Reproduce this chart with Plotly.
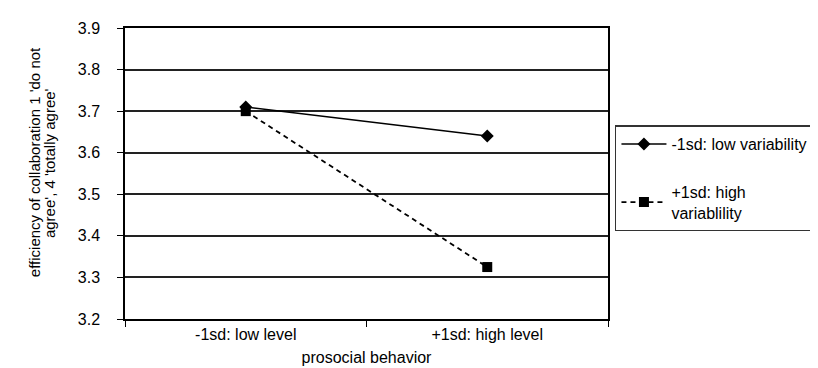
import plotly.graph_objects as go

categories = ["-1sd: low level", "+1sd: high level"]
low_var = [3.71, 3.64]
high_var = [3.70, 3.325]
series_names = ["-1sd: low variability", "+1sd: high<br>variablility"]
y_ticks = [3.2, 3.3, 3.4, 3.5, 3.6, 3.7, 3.8, 3.9]
y_title_lines = ["efficiency of collaboration 1 'do not", "agree', 4 'totally agree'"]
x_title = "prosocial behavior"

font_family = "Liberation Sans, Arial, sans-serif"

fig = go.Figure()
fig.add_trace(go.Scatter(
    x=categories, y=low_var, name=series_names[0], mode="lines+markers",
    line=dict(color="black", width=1.5),
    marker=dict(symbol="diamond", size=10, color="black"),
    legendgroup="a",
))
fig.add_trace(go.Scatter(
    x=categories, y=high_var, name=series_names[1], mode="lines+markers",
    line=dict(color="black", width=1.8, dash="5px,4px"),
    marker=dict(symbol="square", size=10, color="black"),
    legendgroup="b",
))

fig.update_layout(
    width=818, height=368,
    margin=dict(l=117, r=215, t=19, b=55),
    paper_bgcolor="white", plot_bgcolor="white",
    font=dict(family=font_family, size=16, color="black"),
    showlegend=True,
    legend=dict(
        x=1.0144, xanchor="left", y=0.665, yanchor="top",
        bordercolor="#333", borderwidth=1.5, bgcolor="white",
        font=dict(size=16), tracegroupgap=24, traceorder="grouped",
        itemwidth=45,
    ),
    xaxis=dict(
        type="category", range=[-0.5, 1.5], tickson="boundaries",
        ticks="outside", ticklen=6,
        tickcolor="black", showline=True, linecolor="black", linewidth=1.5,
        mirror=True, showgrid=False,
        tickfont=dict(size=16),
        title=dict(text=x_title, font=dict(size=16), standoff=10),
    ),
    yaxis=dict(
        range=[3.2, 3.9], tickvals=y_ticks, tickformat=".1f",
        ticks="outside", ticklen=6, tickcolor="black", ticklabelstandoff=14,
        showline=True, linecolor="black", linewidth=1.5, mirror=True,
        showgrid=True, gridcolor="#222", gridwidth=1.5, zeroline=False,
        tickfont=dict(size=16),
    ),
)

for line_text, xpx in zip(y_title_lines, [26, 41]):
    fig.add_annotation(
        text=line_text, textangle=-90, showarrow=False,
        xref="paper", yref="paper",
        x=(xpx - 117) / 486, y=(313 - 155) / 294,
        xanchor="center", yanchor="middle",
        font=dict(size=15, family=font_family),
    )

fig.write_html("out.html")
